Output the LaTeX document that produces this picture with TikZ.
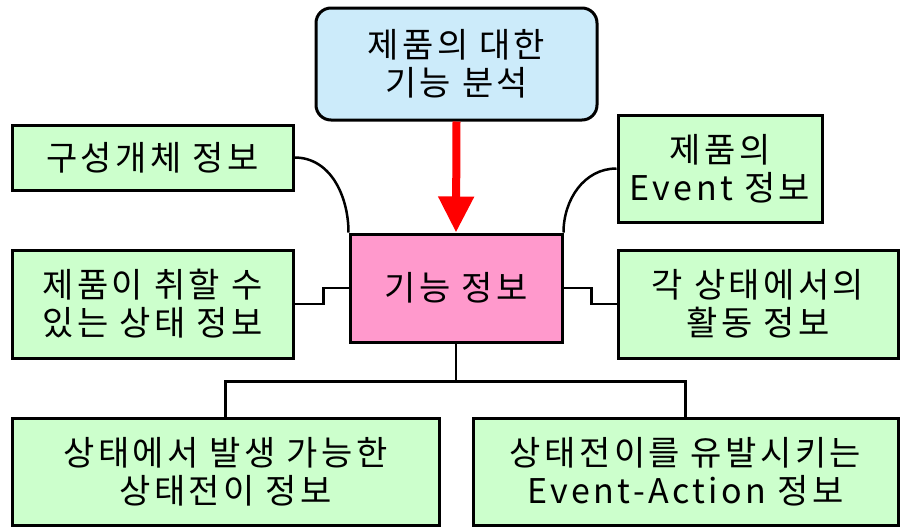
\documentclass[tikz,border=0pt]{standalone}
\usepackage{fontspec}
\setmainfont[LetterSpace=10]{Noto Sans CJK KR}
\usetikzlibrary{arrows.meta}
\definecolor{boxgreen}{HTML}{CCFFCC}
\definecolor{boxblue}{HTML}{CCEBFA}
\definecolor{boxpink}{HTML}{FF99CC}
\definecolor{arrred}{HTML}{FF0000}
\tikzset{
  base/.style={draw=black, line width=3pt, align=center, inner sep=0pt,
    font=\fontsize{34}{38}\selectfont},
  gbox/.style={base, fill=boxgreen},
  conn/.style={draw=black, line width=2.5pt},
}
\begin{document}
\begin{tikzpicture}[x=1pt,y=-1pt]
\useasboundingbox (0,0) rectangle (905,528);
\node[base, fill=boxblue, rounded corners=15pt, minimum width=281pt, minimum height=112pt] (top) at (456.5,64) {제품의 대한\\기능 분석};
\node[base, fill=boxpink, minimum width=212pt, minimum height=108pt] (pink) at (456,288) {기능 정보};
\node[gbox, minimum width=281pt, minimum height=65pt] (g1) at (152.5,157.5) {구성개체 정보};
\node[gbox, minimum width=281pt, minimum height=108pt] (g2) at (152.5,304) {제품이 취할 수\\있는 상태 정보};
\node[gbox, minimum width=204pt, minimum height=107pt] (g3) at (720,168.5) {제품의\\Event 정보};
\node[gbox, minimum width=280pt, minimum height=108pt] (g4) at (758,304) {각 상태에서의\\활동 정보};
\node[gbox, minimum width=427pt, minimum height=107pt] (g5) at (225.5,471.5) {상태에서 발생 가능한\\상태전이 정보};
\node[gbox, minimum width=425pt, minimum height=107pt] (g6) at (685.5,471.5) {상태전이를 유발시키는\\Event-Action 정보};
% connectors
\draw[conn] (g1.east) to[out=0,in=90] (pink.north west);
\draw[conn] (g3.west) to[out=180,in=90] (pink.north east);
\draw[conn] (g2.east) -- ++(29,0) |- (pink.west);
\draw[conn] (pink.east) -- ++(28,0) |- (g4.west);
\draw[conn] (pink.south) -- ++(0,38) coordinate (j);
\draw[conn] (g5.north) |- (j) -| (g6.north);
\draw[draw=arrred, line width=8pt, -{Triangle[width=34pt,length=36pt]}, color=arrred] (top.south) -- (pink.north);
\end{tikzpicture}
\end{document}
